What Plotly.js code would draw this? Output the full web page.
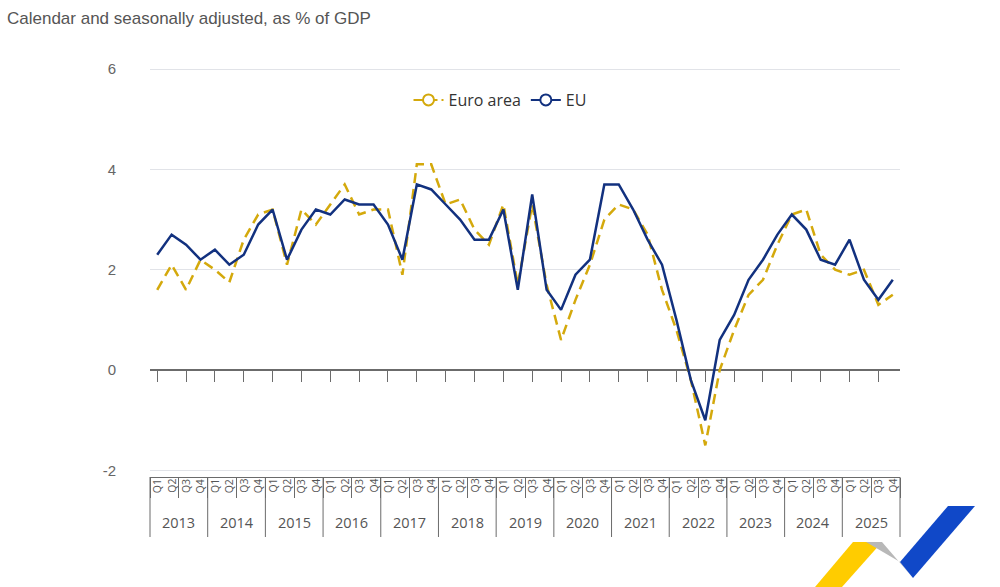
<!DOCTYPE html>
<html>
<head>
<meta charset="utf-8">
<script src="https://cdn.plot.ly/plotly-3.0.1.min.js"></script>
<style>
  html, body { margin: 0; padding: 0; background: #ffffff; }
  #chart { width: 1000px; height: 587px; }
</style>
</head>
<body>
<div id="chart"></div>
<script>
// ---- data ----
const years = ['2013','2014','2015','2016','2017','2018','2019','2020','2021','2022','2023','2024','2025'];
const quarters = ['Q1','Q2','Q3','Q4'];
const euroArea = [
  1.6, 2.1, 1.6, 2.2,
  2.0, 1.75, 2.6, 3.1,
  3.2, 2.1, 3.2, 2.9,
  3.3, 3.7, 3.1, 3.2,
  3.2, 1.9, 4.1, 4.1,
  3.3, 3.4, 2.8, 2.5,
  3.3, 1.7, 3.3, 1.7,
  0.6, 1.4, 2.1, 3.0,
  3.3, 3.2, 2.7, 1.6,
  0.8, -0.2, -1.5, 0.0,
  0.8, 1.5, 1.8, 2.5,
  3.1, 3.2, 2.3, 2.0,
  1.9, 2.0, 1.3, 1.5
];
const eu = [
  2.3, 2.7, 2.5, 2.2,
  2.4, 2.1, 2.3, 2.9,
  3.2, 2.2, 2.8, 3.2,
  3.1, 3.4, 3.3, 3.3,
  2.9, 2.2, 3.7, 3.6,
  3.3, 3.0, 2.6, 2.6,
  3.2, 1.6, 3.5, 1.6,
  1.2, 1.9, 2.2, 3.7,
  3.7, 3.2, 2.6, 2.1,
  1.0, -0.2, -1.0, 0.6,
  1.1, 1.8, 2.2, 2.7,
  3.1, 2.8, 2.2, 2.1,
  2.6, 1.8, 1.4, 1.8
];
const yTicks = [-2, 0, 2, 4, 6];
const seriesNames = ['Euro area', 'EU'];

// ---- styling ----
const GOLD = '#d4a90c';
const NAVY = '#12317f';
const AXIS = '#6b6b6b';
const W = 1000, H = 587;
const M = { l: 150, r: 100, t: 67, b: 110 };
const plotH = H - M.t - M.b;
const plotW = W - M.l - M.r;
const yRange = [-2.13, 6.04];
const zeroFrac = (0 - yRange[0]) / (yRange[1] - yRange[0]);

const periods = years.flatMap(y => quarters.map(q => y + ' ' + q));
const nCat = periods.length;

const traces = [
  { x: periods, y: euroArea, name: seriesNames[0], type: 'scatter', mode: 'lines',
    line: { color: GOLD, width: 2.5, dash: '10px,6px' }, showlegend: false, hoverinfo: 'x+y+name' },
  { x: periods, y: eu, name: seriesNames[1], type: 'scatter', mode: 'lines',
    line: { color: NAVY, width: 2.5 }, showlegend: false, hoverinfo: 'x+y+name' },
  // legend entries
  { x: [periods[0]], y: [null], name: seriesNames[0], type: 'scatter', mode: 'lines+markers',
    line: { color: GOLD, width: 2, dash: '10px,4px' },
    marker: { symbol: 'circle', size: 11, color: '#ffffff', line: { color: GOLD, width: 2 } } },
  { x: [periods[0]], y: [null], name: seriesNames[1], type: 'scatter', mode: 'lines+markers',
    line: { color: NAVY, width: 2 },
    marker: { symbol: 'circle', size: 11, color: '#ffffff', line: { color: NAVY, width: 2 } } },
  // invisible carrier for the zero-line tick axis
  { x: periods, y: eu, xaxis: 'x2', type: 'scatter', mode: 'lines', opacity: 0,
    line: { width: 0.1 }, hoverinfo: 'skip', showlegend: false }
];

// ---- category table below the plot ----
const annotations = [];
periods.forEach((p, i) => {
  annotations.push({
    x: i / nCat + 0.5 / nCat, xref: 'paper', y: 0, yref: 'paper', yshift: -9,
    text: quarters[i % 4], textangle: -90, showarrow: false,
    xanchor: 'center', yanchor: 'middle',
    font: { family: 'Open Sans, sans-serif', size: 10.5, color: '#555' }
  });
});
years.forEach((yr, k) => {
  annotations.push({
    x: (4 * k + 2) / nCat, xref: 'paper', y: 0, yref: 'paper', yshift: -45,
    text: yr, showarrow: false, xanchor: 'center', yanchor: 'middle',
    font: { family: 'Open Sans, sans-serif', size: 14.5, color: '#555' }
  });
});

const shapes = [];
for (let k = 0; k <= years.length; k++) {
  shapes.push({
    type: 'line', xref: 'paper', yref: 'paper',
    x0: (4 * k) / nCat, x1: (4 * k) / nCat, y0: 0, y1: -60 / plotH,
    line: { color: AXIS, width: 1 }
  });
}

// decorative logo in the corner (pixel -> paper)
const px = x => (x - M.l) / plotW;
const py = y => (H - M.b - y) / plotH;
const poly = pts => 'M' + pts.map(p => px(p[0]) + ',' + py(p[1])).join(' L') + ' Z';
shapes.push({ type: 'path', xref: 'paper', yref: 'paper', line: { width: 0 }, fillcolor: '#ffcc00',
  path: poly([[853, 542], [882, 542], [842, 587], [815, 587]]) });
shapes.push({ type: 'path', xref: 'paper', yref: 'paper', line: { width: 0 }, fillcolor: '#b8b8b8',
  path: poly([[866, 542], [882, 542], [913, 578], [900, 562]]) });
shapes.push({ type: 'path', xref: 'paper', yref: 'paper', line: { width: 0 }, fillcolor: '#1048c8',
  path: poly([[948, 506], [975, 506], [913, 578], [900, 562]]) });

const layout = {
  width: W, height: H,
  margin: { l: M.l, r: M.r, t: M.t, b: M.b, pad: 0, autoexpand: false },
  paper_bgcolor: '#ffffff', plot_bgcolor: '#ffffff',
  font: { family: 'Open Sans, sans-serif', color: '#333' },
  title: {
    text: 'Calendar and seasonally adjusted, as % of GDP',
    xref: 'container', x: 7 / W, xanchor: 'left',
    yref: 'container', y: 1 - 18 / H, yanchor: 'middle',
    font: { family: 'Liberation Sans, Arial, sans-serif', size: 17, color: '#555' }
  },
  showlegend: true,
  legend: {
    orientation: 'h', xref: 'paper', x: px(W / 2), xanchor: 'center',
    yref: 'paper', y: py(100), yanchor: 'middle',
    font: { family: 'Open Sans, sans-serif', size: 16, color: '#333' },
    bgcolor: 'rgba(0,0,0,0)', itemclick: false, itemdoubleclick: false
  },
  xaxis: {
    type: 'category', range: [-0.5, nCat - 0.5], fixedrange: true,
    showgrid: false, zeroline: false,
    showline: true, linecolor: AXIS, linewidth: 1,
    ticks: 'outside', tickson: 'boundaries', ticklen: 20, tickcolor: AXIS, tickwidth: 1,
    showticklabels: false
  },
  xaxis2: {
    type: 'category', overlaying: 'x', anchor: 'free', position: zeroFrac, side: 'bottom',
    range: [-0.5, nCat - 0.5], fixedrange: true,
    showgrid: false, zeroline: false,
    showline: true, linecolor: AXIS, linewidth: 1.5,
    ticks: 'outside', ticklen: 11, tickcolor: AXIS, tickwidth: 1,
    showticklabels: false, layer: 'below traces'
  },
  yaxis: {
    range: yRange, fixedrange: true,
    tickmode: 'array', tickvals: yTicks, ticktext: yTicks.map(String),
    showgrid: true, gridcolor: '#e1e3e8', gridwidth: 1,
    zeroline: false, showline: false,
    ticks: 'outside', ticklen: 30, tickcolor: 'rgba(0,0,0,0)',
    tickfont: { family: 'Liberation Sans, Arial, sans-serif', size: 15, color: '#666' }
  },
  annotations: annotations,
  shapes: shapes
};

Plotly.newPlot('chart', traces, layout, { displayModeBar: false, staticPlot: false });
</script>
</body>
</html>
